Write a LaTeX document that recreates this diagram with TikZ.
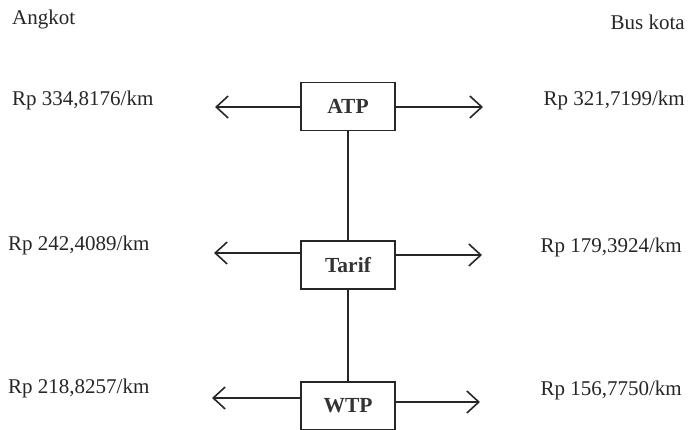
\documentclass[tikz,border=0pt]{standalone}
\usepackage{fontspec}
\setmainfont{Liberation Serif}
\usetikzlibrary{arrows.meta}
\begin{document}
\begin{tikzpicture}[x=1pt,y=-1pt,
  box/.style={draw=black!85,line width=1.8pt,minimum width=94pt,minimum height=48pt,inner sep=0pt,font=\fontsize{21.5}{23}\selectfont\bfseries,text=black!80},
  lbl/.style={inner sep=0pt,font=\fontsize{21}{23}\selectfont,text=black!85},
  arr/.style={draw=black!85,line width=1.8pt,-{Straight Barb[length=12pt,width=22pt,line width=1.6pt]}},
  conn/.style={draw=black!85,line width=2pt}]
\useasboundingbox (0,0) rectangle (692,430);
% boxes
\node[box] (atp) at (348,106.5) {ATP};
\node[box] (tarif) at (348,265) {Tarif};
\node[box] (wtp) at (348,406) {WTP};
% arrow tips
\coordinate (l1) at (215,107);
\coordinate (r1) at (483,107);
\coordinate (l2) at (214,253);
\coordinate (r2) at (482,255);
\coordinate (l3) at (212,398);
\coordinate (r3) at (480,402);
\draw[arr] (atp.west |- l1) -- (l1);
\draw[arr] (atp.east |- r1) -- (r1);
\draw[arr] (tarif.west |- l2) -- (l2);
\draw[arr] (tarif.east |- r2) -- (r2);
\draw[arr] (wtp.west |- l3) -- (l3);
\draw[arr] (wtp.east |- r3) -- (r3);
% vertical connectors
\draw[conn] (atp.south) -- (atp.south |- tarif.north);
\draw[conn] (tarif.south) -- (tarif.south |- wtp.north);
% labels
\node[lbl,anchor=west] (angkot) at (12,19) {Angkot};
\node[lbl,anchor=east] (bus) at (685,22) {Bus kota};
\node[lbl,anchor=west] (a1) at (12,100) {Rp 334,8176/km};
\node[lbl,anchor=east] (b1) at (685,100) {Rp 321,7199/km};
\node[lbl,anchor=west] (a2) at (8,245) {Rp 242,4089/km};
\node[lbl,anchor=east] (b2) at (682,247) {Rp 179,3924/km};
\node[lbl,anchor=west] (a3) at (8,388) {Rp 218,8257/km};
\node[lbl,anchor=east] (b3) at (682,390) {Rp 156,7750/km};
\end{tikzpicture}
\end{document}
